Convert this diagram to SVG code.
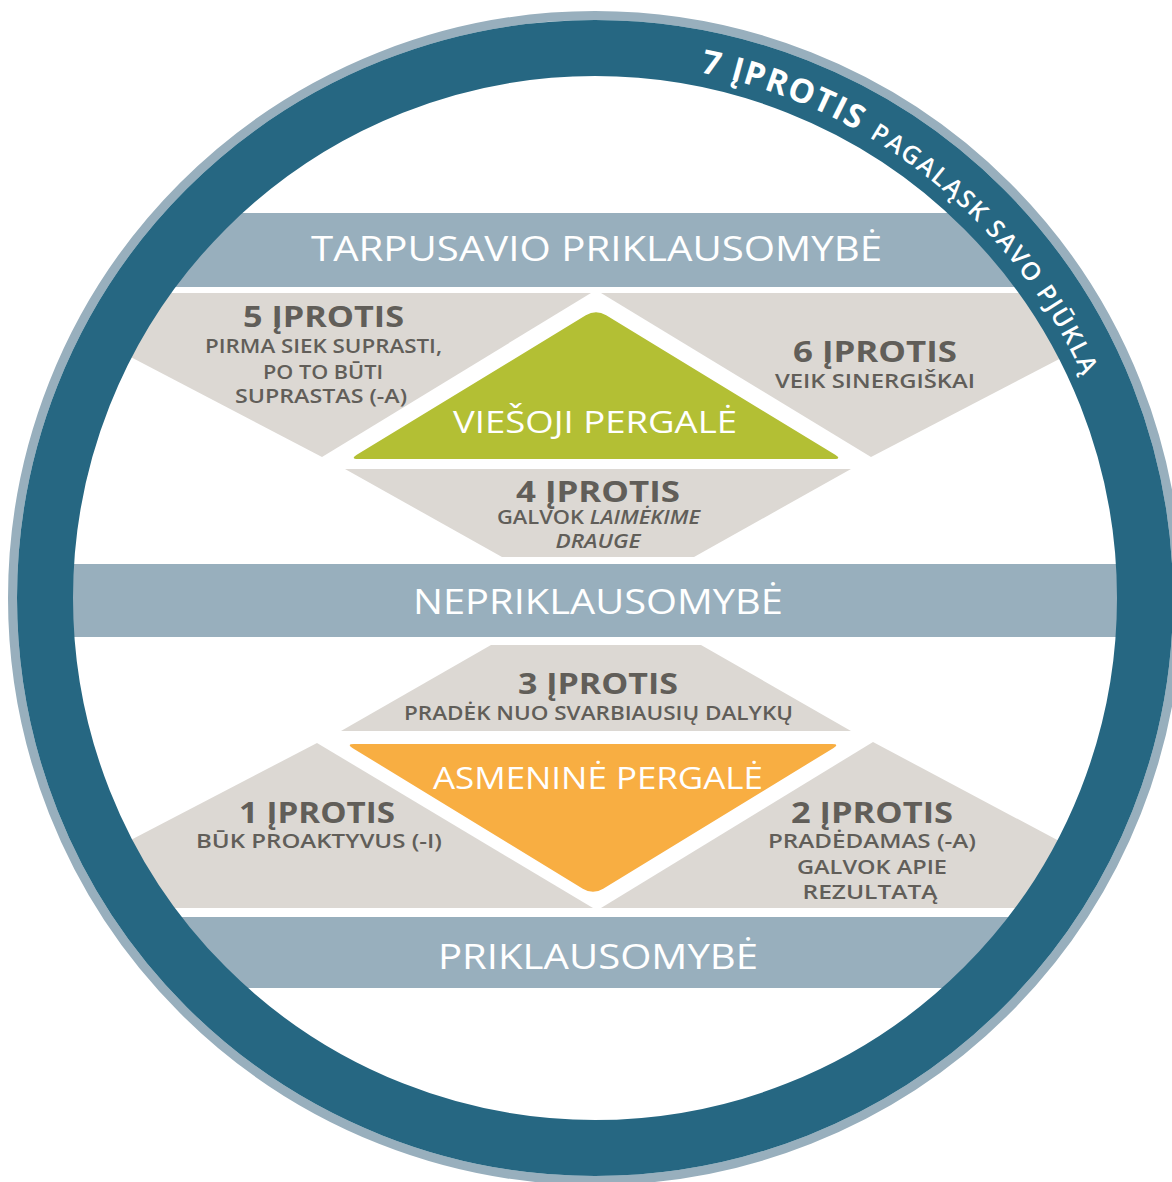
<svg xmlns="http://www.w3.org/2000/svg" width="1172" height="1182" viewBox="0 0 1172 1182">
  <defs>
    <clipPath id="inside">
      <circle cx="595" cy="598" r="565"/>
    </clipPath>
    <path id="rimArc" d="M 700.0,72.4 A 536 536 0 0 1 1122.9,504.9"/>
  </defs>
  <style>
    .band { fill: #98afbd; }
    .tile { fill: #dcd8d3; }
    .txt { font-family: "Open Sans", "Liberation Sans", sans-serif; text-anchor: middle; }
    .band-label { fill: #ffffff; font-size: 35px; font-weight: 400; }
    .win-label { fill: #ffffff; font-size: 31px; font-weight: 400; }
    .habit { fill: #615e59; font-size: 29px; font-weight: 700; }
    .habit-sub { fill: #615e59; font-size: 20px; font-weight: 600; }
    .rim { fill: #ffffff; font-family: "Open Sans", "Liberation Sans", sans-serif; }
  </style>

  <rect width="1172" height="1182" fill="#ffffff"/>

  <g clip-path="url(#inside)">
    <!-- three maturity bands -->
    <g id="band-interdependence">
      <rect class="band" x="0" y="213" width="1172" height="74"/>
      <text class="txt band-label" x="596.5" y="261" textLength="571" lengthAdjust="spacingAndGlyphs">TARPUSAVIO PRIKLAUSOMYBĖ</text>
    </g>
    <g id="band-independence">
      <rect class="band" x="0" y="564" width="1172" height="73"/>
      <text class="txt band-label" x="598" y="614" textLength="370" lengthAdjust="spacingAndGlyphs">NEPRIKLAUSOMYBĖ</text>
    </g>
    <g id="band-dependence">
      <rect class="band" x="0" y="917" width="1172" height="71"/>
      <text class="txt band-label" x="598" y="969" textLength="320" lengthAdjust="spacingAndGlyphs">PRIKLAUSOMYBĖ</text>
    </g>

    <!-- upper half: public victory -->
    <g id="habit-5">
      <polygon class="tile" points="8,293 591,293 322,457"/>
      <text class="txt habit" x="323.5" y="327" textLength="161" lengthAdjust="spacingAndGlyphs">5 ĮPROTIS</text>
      <text class="txt habit-sub" x="323.5" y="353" textLength="237" lengthAdjust="spacingAndGlyphs">PIRMA SIEK SUPRASTI,</text>
      <text class="txt habit-sub" x="323" y="379" textLength="120" lengthAdjust="spacingAndGlyphs">PO TO BŪTI</text>
      <text class="txt habit-sub" x="321" y="403" textLength="172" lengthAdjust="spacingAndGlyphs">SUPRASTAS (-A)</text>
    </g>
    <g id="habit-6">
      <polygon class="tile" points="601,293 1186,293 871,457"/>
      <text class="txt habit" x="875" y="362" textLength="164" lengthAdjust="spacingAndGlyphs">6 ĮPROTIS</text>
      <text class="txt habit-sub" x="875" y="388" textLength="200" lengthAdjust="spacingAndGlyphs">VEIK SINERGIŠKAI</text>
    </g>
    <g id="public-victory">
      <path fill="#b3bf34" d="M 585.8,315.3 Q 596,309 606.2,315.3 L 835.2,454.8 Q 842,459 834,459 L 358,459 Q 350,459 356.8,454.8 Z"/>
      <text class="txt win-label" x="595" y="433" textLength="284" lengthAdjust="spacingAndGlyphs">VIEŠOJI PERGALĖ</text>
    </g>
    <g id="habit-4">
      <polygon class="tile" points="345,469 851,469 694,557 502,557"/>
      <text class="txt habit" x="598" y="502" textLength="164" lengthAdjust="spacingAndGlyphs">4 ĮPROTIS</text>
      <text class="txt habit-sub" x="598.5" y="524" textLength="203" lengthAdjust="spacingAndGlyphs">GALVOK <tspan font-style="italic">LAIMĖKIME</tspan></text>
      <text class="txt habit-sub" x="598" y="548" textLength="85" lengthAdjust="spacingAndGlyphs" font-style="italic">DRAUGE</text>
    </g>

    <!-- lower half: private victory -->
    <g id="habit-3">
      <polygon class="tile" points="491,645 701,645 851,731 341,731"/>
      <text class="txt habit" x="598" y="694" textLength="160" lengthAdjust="spacingAndGlyphs">3 ĮPROTIS</text>
      <text class="txt habit-sub" x="598.5" y="720" textLength="389" lengthAdjust="spacingAndGlyphs">PRADĖK NUO SVARBIAUSIŲ DALYKŲ</text>
    </g>
    <g id="private-victory">
      <path fill="#f8ae42" d="M 354,744 L 832,744 Q 840,744 833.2,748.2 L 603.2,888.7 Q 593,895 582.8,888.7 L 352.8,748.2 Q 346,744 354,744 Z"/>
      <text class="txt win-label" x="598" y="789" textLength="330" lengthAdjust="spacingAndGlyphs">ASMENINĖ PERGALĖ</text>
    </g>
    <g id="habit-1">
      <polygon class="tile" points="317,743 593,908 0,908"/>
      <text class="txt habit" x="317" y="823" textLength="156" lengthAdjust="spacingAndGlyphs">1 ĮPROTIS</text>
      <text class="txt habit-sub" x="319" y="848" textLength="246" lengthAdjust="spacingAndGlyphs">BŪK PROAKTYVUS (-I)</text>
    </g>
    <g id="habit-2">
      <polygon class="tile" points="873,742 1185,908 601,908"/>
      <text class="txt habit" x="872" y="823" textLength="162" lengthAdjust="spacingAndGlyphs">2 ĮPROTIS</text>
      <text class="txt habit-sub" x="872" y="848" textLength="208" lengthAdjust="spacingAndGlyphs">PRADĖDAMAS (-A)</text>
      <text class="txt habit-sub" x="872" y="874" textLength="150" lengthAdjust="spacingAndGlyphs">GALVOK APIE</text>
      <text class="txt habit-sub" x="870" y="899" textLength="135" lengthAdjust="spacingAndGlyphs">REZULTATĄ</text>
    </g>
  </g>

  <!-- outer ring: habit 7 -->
  <g id="habit-7">
    <circle cx="595" cy="598" r="582.5" fill="none" stroke="#98afbd" stroke-width="9"/>
    <circle cx="595" cy="598" r="550" fill="none" stroke="#266782" stroke-width="56"/>
    <text class="rim" font-size="33" font-weight="700">
      <textPath href="#rimArc" startOffset="0" textLength="168">7 ĮPROTIS</textPath>
    </text>
    <text class="rim" font-size="25" font-weight="600">
      <textPath href="#rimArc" startOffset="182" textLength="325">PAGALĄSK SAVO PJŪKLĄ</textPath>
    </text>
  </g>

  <g id="connectors"/>
</svg>
